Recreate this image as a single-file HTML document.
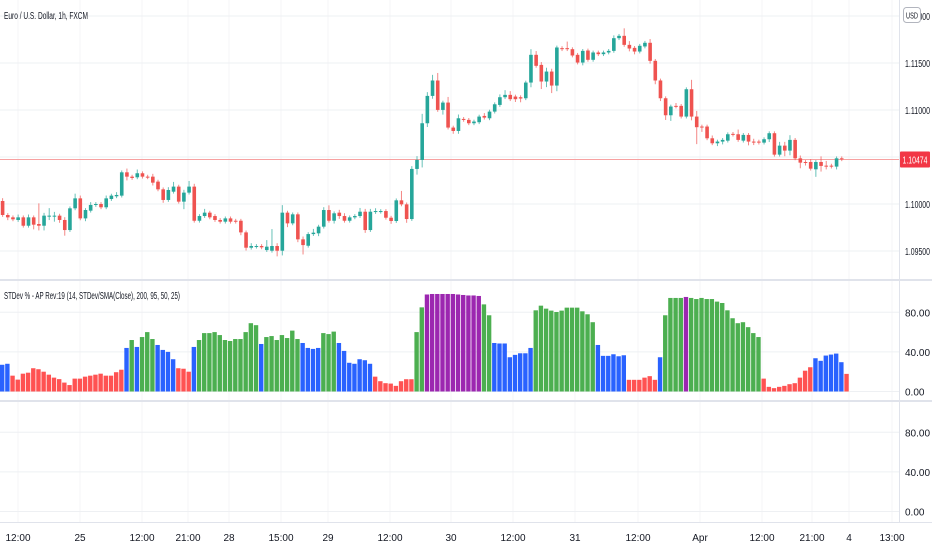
<!DOCTYPE html>
<html><head><meta charset="utf-8">
<style>
html,body{margin:0;padding:0;background:#fff;}
svg{display:block;font-family:"Liberation Sans",sans-serif;}
</style></head>
<body>
<svg id="chart" width="932" height="550" viewBox="0 0 932 550" xmlns="http://www.w3.org/2000/svg">
<g id="grid"></g>
<g id="candles"></g>
<g id="bars"></g>
<g id="axes"></g>
<text x="4" y="19" font-size="10" fill="#131722" textLength="84" lengthAdjust="spacingAndGlyphs">Euro / U.S. Dollar, 1h, FXCM</text>
<text x="4" y="299" font-size="10" fill="#131722" textLength="176" lengthAdjust="spacingAndGlyphs">STDev % - AP Rev:19 (14, STDev/SMA(Close), 200, 95, 50, 25)</text>
</svg>
<script>
const opens=[1.10032,1.09883,1.09858,1.09830,1.09858,1.09769,1.09858,1.09787,1.09769,1.09869,1.09872,1.09876,1.09830,1.09723,1.09954,1.10060,1.09847,1.09929,1.09990,1.10000,1.09965,1.10053,1.10082,1.10089,1.10337,1.10291,1.10284,1.10327,1.10291,1.10291,1.10238,1.10156,1.10043,1.10131,1.10185,1.10025,1.10121,1.10185,1.09822,1.09872,1.09908,1.09872,1.09830,1.09812,1.09847,1.09822,1.09822,1.09698,1.09535,1.09546,1.09553,1.09510,1.09503,1.09553,1.09503,1.09908,1.09794,1.09890,1.09624,1.09556,1.09680,1.09688,1.09759,1.09936,1.09822,1.09908,1.09872,1.09822,1.09858,1.09872,1.09918,1.09723,1.09915,1.09918,1.09925,1.09854,1.09819,1.10039,1.09996,1.09840,1.10373,1.10469,1.10859,1.11150,1.11314,1.11001,1.11079,1.10813,1.10777,1.10905,1.10895,1.10859,1.10870,1.10937,1.10912,1.10983,1.11054,1.11136,1.11161,1.11143,1.11136,1.11125,1.11292,1.11587,1.11480,1.11303,1.11409,1.11260,1.11658,1.11658,1.11647,1.11587,1.11505,1.11633,1.11534,1.11612,1.11594,1.11612,1.11629,1.11764,1.11789,1.11693,1.11661,1.11622,1.11676,1.11715,1.11523,1.11314,1.11125,1.10944,1.11044,1.11044,1.10930,1.11221,1.10930,1.10824,1.10824,1.10699,1.10646,1.10664,1.10674,1.10746,1.10742,1.10674,1.10735,1.10664,1.10664,1.10653,1.10689,1.10753,1.10525,1.10621,1.10568,1.10682,1.10486,1.10447,1.10447,1.10369,1.10447,1.10408,1.10408,1.10398,1.10486];
const closes=[1.09883,1.09858,1.09837,1.09858,1.09769,1.09858,1.09780,1.09769,1.09876,1.09876,1.09876,1.09830,1.09723,1.09954,1.10060,1.09847,1.09936,1.09990,1.10000,1.09965,1.10060,1.10089,1.10096,1.10337,1.10291,1.10277,1.10327,1.10291,1.10284,1.10227,1.10156,1.10043,1.10149,1.10185,1.10025,1.10121,1.10185,1.09822,1.09872,1.09908,1.09858,1.09830,1.09812,1.09847,1.09812,1.09812,1.09698,1.09535,1.09553,1.09553,1.09539,1.09546,1.09553,1.09503,1.09908,1.09794,1.09890,1.09624,1.09563,1.09680,1.09695,1.09759,1.09936,1.09822,1.09901,1.09872,1.09822,1.09858,1.09872,1.09918,1.09723,1.09918,1.09925,1.09925,1.09854,1.09819,1.10039,1.09996,1.09840,1.10373,1.10469,1.10859,1.11150,1.11314,1.11001,1.11079,1.10813,1.10777,1.10912,1.10895,1.10859,1.10877,1.10930,1.10919,1.10983,1.11061,1.11136,1.11161,1.11115,1.11115,1.11122,1.11292,1.11587,1.11470,1.11303,1.11409,1.11260,1.11665,1.11647,1.11647,1.11580,1.11505,1.11629,1.11534,1.11612,1.11594,1.11612,1.11629,1.11764,1.11789,1.11693,1.11654,1.11622,1.11683,1.11715,1.11523,1.11314,1.11125,1.10944,1.11037,1.11037,1.10930,1.11221,1.10930,1.10817,1.10817,1.10699,1.10646,1.10664,1.10682,1.10742,1.10738,1.10682,1.10735,1.10664,1.10657,1.10653,1.10689,1.10753,1.10525,1.10621,1.10568,1.10682,1.10486,1.10440,1.10440,1.10376,1.10447,1.10405,1.10398,1.10398,1.10486,1.10476];
const wickUpPips=[3,2,2,3,2,3,2,22,3,8,4,2,3,2,5,3,2,3,2,2,3,2,3,2,4,2,4,2,2,3,2,2,3,5,2,3,6,3,2,4,2,2,2,2,2,2,2,2,3,2,2,7,18,3,8,2,2,2,3,2,4,2,3,5,2,3,3,2,2,4,3,3,3,2,2,2,2,10,2,3,4,10,4,6,8,2,6,2,4,2,2,2,2,3,2,2,3,5,4,2,2,2,6,4,3,4,3,2,2,7,2,2,2,2,2,2,2,2,3,2,8,4,2,2,2,4,2,2,2,2,3,2,2,10,6,2,2,3,2,2,2,2,5,2,2,3,2,2,2,2,4,4,5,2,3,2,3,2,6,5,2,2,2,3,4];
const wickDnPips=[2,3,2,2,2,2,5,5,5,4,6,3,6,2,2,2,3,2,2,2,2,2,2,2,4,2,2,2,2,3,2,3,2,2,2,8,2,2,2,2,2,2,2,2,2,2,3,3,2,2,2,2,2,6,5,4,2,3,10,2,2,3,2,2,3,3,2,2,2,2,3,2,2,2,2,3,2,2,4,2,6,8,4,3,2,5,2,3,3,2,2,2,2,2,2,2,2,2,2,3,4,2,5,2,8,6,8,6,2,2,2,2,3,2,2,2,2,2,2,2,2,3,3,2,2,3,4,3,5,6,2,2,2,4,18,5,2,2,3,3,2,2,2,2,4,3,2,2,3,2,2,6,5,2,6,3,2,8,6,3,2,3,2,2];
const stdevValues=[27,28,16,12,18,19,23.5,22.5,20,17,14,12.5,9,6.5,13,13,15,16,17,18,16,16,19.5,22,44,52,45,55,60,53,47,42,40,32.6,23.5,23,20,45,52,59,59,60,57,52,51,53,53,60,69,67,48,55,56,52,57,54,61.5,53,49,44,43,44,59,58,60.5,49,41,29,28,32.6,31.6,28,15,10.4,8.4,8,5.7,10.4,12.4,12.4,60,85,98,98.5,98.5,98.5,98.5,98.5,98,97.5,97,97,96.5,88,77,49,48.5,48.5,34.6,37,38.6,38.6,44,82,86.7,83.7,81.7,80.3,81.7,84.7,84.7,84.7,81,78,70,47,36,36,37.6,35.6,36.6,11.8,11.8,11.8,14,15.5,11.8,34.6,77,94.5,94.5,94.5,95.5,94.5,93.4,94.5,93.4,93.4,90.8,89.4,82,74,69,70,65,59,55,13,4.7,3.4,4.7,5.7,7.4,8.4,14,21,24.5,33.6,31,36.3,37.3,38.3,29.6,17.8];
const priceTicks=["1.12000","1.11500","1.11000","1.10000","1.09500"];
const priceTickValues=[1.12,1.115,1.11,1.10,1.095];
const lastPrice=1.10474;
const stdevTicks=[0,40,80];
const timeLabels=["12:00","25","12:00","21:00","28","15:00","29","12:00","30","12:00","31","12:00","Apr","12:00","21:00","4","13:00"];
const timeLabelX=[18,80,142,188,229,281,328,390,451,513,575,638,700,762,812,849,892];

const NS="http://www.w3.org/2000/svg";
function mk(tag,attrs,parent){const e=document.createElementNS(NS,tag);for(const k in attrs)e.setAttribute(k,attrs[k]);parent.appendChild(e);return e;}
const PITCH=5.18, X0=2.6;
const xScale=i=>X0+i*PITCH;
const yPrice=p=>204-(p-1.10)*9400;
const yStd=v=>391.5-v*0.99;
const yLow=v=>511.5-v*0.99;
const grid=document.getElementById('grid'),axes=document.getElementById('axes'),cg=document.getElementById('candles'),bg=document.getElementById('bars');

let r=mk('rect',{x:0,y:279,width:932,height:2,fill:'#e0e3eb'},axes);


r=mk('rect',{x:0,y:400,width:932,height:2,fill:'#e0e3eb'},axes);


r=mk('line',{x1:899.5,y1:0,x2:899.5,y2:523,stroke:'#e0e3eb'},axes);


r=mk('line',{x1:0,y1:522.5,x2:932,y2:522.5,stroke:'#e0e3eb'},axes);



timeLabelX.forEach(x=>{const l=mk('line',{x1:x,y1:0,x2:x,y2:522,stroke:'#f5f5f7'},grid);

});
[1.12,1.115,1.11,1.105,1.10,1.095].forEach(p=>{const l=mk('line',{x1:0,y1:yPrice(p),x2:899,y2:yPrice(p),stroke:'#eef0f3'},grid);

});
priceTicks.forEach((t,i)=>{const e=mk('text',{x:905,y:yPrice(priceTickValues[i])+4,'font-size':10,fill:'#131722',textLength:25,lengthAdjust:'spacingAndGlyphs'},axes);e.textContent=t;

});
r=mk('rect',{x:903.5,y:7.5,width:17,height:15,rx:3,fill:'#fff',stroke:'#b2b5be'},axes);


r=mk('text',{x:906,y:18.5,'font-size':8,fill:'#131722',textLength:12,lengthAdjust:'spacingAndGlyphs'},axes);r.textContent='USD';


stdevTicks.forEach(v=>{
 let l=mk('line',{x1:0,y1:yStd(v),x2:899,y2:yStd(v),stroke:'#eef0f3'},grid);
 
 
 l=mk('line',{x1:0,y1:yLow(v),x2:899,y2:yLow(v),stroke:'#eef0f3'},grid);
 
 
 let t=mk('text',{x:905,y:yStd(v)+4,'font-size':10,fill:'#131722'},axes);t.textContent=v.toFixed(2);
 
 
 t=mk('text',{x:905,y:yLow(v)+4,'font-size':10,fill:'#131722'},axes);t.textContent=v.toFixed(2);
 
 
});
timeLabels.forEach((s,i)=>{const t=mk('text',{x:timeLabelX[i],y:541,'font-size':10,fill:'#131722','text-anchor':'middle'},axes);t.textContent=s;

});
r=mk('line',{x1:0,y1:yPrice(lastPrice),x2:899,y2:yPrice(lastPrice),stroke:'#f7a1a1','stroke-width':1},grid);


r=mk('rect',{x:900,y:yPrice(lastPrice)-8,width:30,height:16,rx:1,fill:'#f23645'},axes);


r=mk('text',{x:915,y:yPrice(lastPrice)+4,'font-size':10,fill:'#fff','text-anchor':'middle',textLength:25,lengthAdjust:'spacingAndGlyphs'},axes);r.textContent=lastPrice.toFixed(5);



closes.forEach((c,i)=>{
 const o=opens[i],up=c>=o,col=up?'#26a69a':'#ef5350';
 const hi=Math.max(o,c)+wickUpPips[i]*0.0001,lo=Math.min(o,c)-wickDnPips[i]*0.0001;
 const x=xScale(i);
 const g=mk('g',{},cg);
 
 
 mk('line',{x1:x,y1:yPrice(hi),x2:x,y2:yPrice(lo),stroke:col,'stroke-opacity':0.7},g);
 const yt=yPrice(Math.max(o,c)),yb=yPrice(Math.min(o,c));
 mk('rect',{x:x-1.8,y:yt,width:3.6,height:Math.max(1,yb-yt),fill:col},g);
});
stdevValues.forEach((v,i)=>{
 const col=v>=95?'#9c27b0':v>=50?'#4caf50':v>=25?'#2962ff':'#ff5252';
 const x=xScale(i)-2.6;
 const b=mk('rect',{x:x,y:yStd(v),width:4.4,height:yStd(0)-yStd(v),fill:col},bg);
 
 
});
</script>
</body></html>
